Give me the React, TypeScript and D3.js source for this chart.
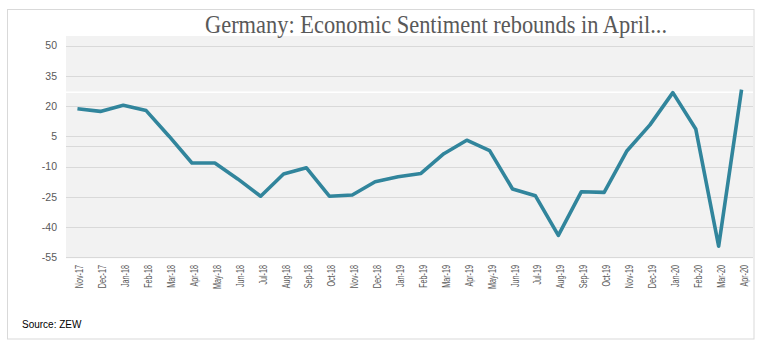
import React, { useEffect, useRef } from 'react';
import * as d3 from 'd3';

const months = [
  'Nov-17', 'Dec-17', 'Jan-18', 'Feb-18', 'Mar-18', 'Apr-18', 'May-18', 'Jun-18', 'Jul-18', 'Aug-18',
  'Sep-18', 'Oct-18', 'Nov-18', 'Dec-18', 'Jan-19', 'Feb-19', 'Mar-19', 'Apr-19', 'May-19', 'Jun-19',
  'Jul-19', 'Aug-19', 'Sep-19', 'Oct-19', 'Nov-19', 'Dec-19', 'Jan-20', 'Feb-20', 'Mar-20', 'Apr-20',
];
const sentiment = [
  18.7, 17.4, 20.4, 17.8, 5.1, -8.2, -8.2, -16.1, -24.7, -13.7,
  -10.6, -24.7, -24.1, -17.5, -15.0, -13.4, -3.6, 3.1, -2.1, -21.1,
  -24.5, -44.1, -22.5, -22.8, -2.1, 10.7, 26.7, 8.7, -49.5, 28.2,
];
const yTicks = [50, 35, 20, 5, -10, -25, -40, -55];

const title = 'Germany: Economic Sentiment rebounds in April...';
const source = 'Source: ZEW';

const App = () => {
  const svgRef = useRef<SVGSVGElement>(null);

  useEffect(() => {
    const width = 766;
    const height = 350;
    const left = 66;
    const right = 753;
    const top = 36;
    const yTop = 45.7;
    const yBottom = 257.3;

    const svg = d3.select(svgRef.current);
    svg.selectAll('*').remove();
    svg.attr('width', width).attr('height', height);

    // outer frame
    svg.append('rect')
      .attr('x', 7.5).attr('y', 9.5)
      .attr('width', 746.5).attr('height', 329.5)
      .attr('fill', '#fff')
      .attr('stroke', '#d9d9d9');

    const x = d3.scaleBand()
      .domain(months)
      .range([left, right]);

    const y = d3.scaleLinear()
      .domain([-55, 50])
      .range([yBottom, yTop]);

    // plot background
    svg.append('rect')
      .attr('x', left).attr('y', top)
      .attr('width', right - left).attr('height', y(-55) - top + 1)
      .attr('fill', '#f2f2f2');

    // gridlines
    svg.append('g')
      .selectAll('line')
      .data([...yTicks, 0])
      .enter()
      .append('line')
      .attr('x1', left).attr('x2', right)
      .attr('y1', d => Math.round(y(d)) + 0.5)
      .attr('y2', d => Math.round(y(d)) + 0.5)
      .attr('stroke', '#d9d9d9')
      .attr('stroke-width', 1);

    // the thin white band seen across the plot
    svg.append('line')
      .attr('x1', left).attr('x2', right)
      .attr('y1', y(26.7) - 0.5).attr('y2', y(26.7) - 0.5)
      .attr('stroke', '#fff')
      .attr('stroke-width', 1.5);

    // y labels
    svg.append('g')
      .selectAll('text')
      .data(yTicks)
      .enter()
      .append('text')
      .attr('x', 57)
      .attr('y', d => y(d))
      .attr('dy', '0.35em')
      .attr('text-anchor', 'end')
      .attr('font-family', 'Liberation Sans, Arial, sans-serif')
      .attr('font-size', 10.5)
      .attr('fill', '#595959')
      .text(d => d);

    // x labels
    svg.append('g')
      .selectAll('text')
      .data(months)
      .enter()
      .append('text')
      .attr('transform', d => `translate(${(x(d) ?? 0) + x.bandwidth() / 2 + 2.5},265) rotate(-90) scale(0.72,1)`)
      .attr('dy', '0.35em')
      .attr('text-anchor', 'end')
      .attr('font-family', 'Liberation Sans, Arial, sans-serif')
      .attr('font-size', 10)
      .attr('fill', '#595959')
      .text(d => d);

    const line = d3.line<number>()
      .x((_, i) => (x(months[i]) ?? 0) + x.bandwidth() / 2)
      .y(d => y(d));

    svg.append('path')
      .datum(sentiment)
      .attr('d', line)
      .attr('fill', 'none')
      .attr('stroke', '#31859c')
      .attr('stroke-width', 3.6)
      .attr('stroke-linejoin', 'round');

    svg.append('text')
      .attr('x', 436)
      .attr('y', 33)
      .attr('text-anchor', 'middle')
      .attr('font-family', 'Liberation Serif, DejaVu Serif, serif')
      .attr('font-size', 25)
      .attr('fill', '#595959')
      .attr('textLength', 462)
      .attr('lengthAdjust', 'spacingAndGlyphs')
      .text(title);

    svg.append('text')
      .attr('x', 22)
      .attr('y', 328)
      .attr('font-family', 'Liberation Sans, Arial, sans-serif')
      .attr('font-size', 10)
      .attr('fill', '#000')
      .text(source);
  }, []);

  return <svg ref={svgRef} style={{ position: 'absolute', left: 0, top: 0 }}></svg>;
};

export default App;
